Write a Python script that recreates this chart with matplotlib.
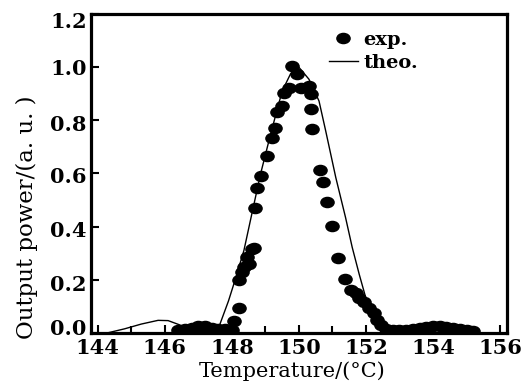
import matplotlib
matplotlib.use("Agg")
import matplotlib.pyplot as plt
from matplotlib.path import Path
from matplotlib.transforms import Affine2D, ScaledTranslation
from matplotlib.ticker import MultipleLocator, FixedLocator

# ---- data ----
theo_x = [144.3, 144.8, 145.3, 145.8, 146.1, 146.4, 146.8, 147.2, 147.55,
          147.9, 148.1, 148.36, 148.6, 148.86, 149.16, 149.5, 149.75, 150.0,
          150.3, 150.6, 150.8, 151.1, 151.39, 151.59, 151.8, 151.99, 152.2,
          152.4, 152.6, 152.9, 153.3, 153.7, 154.1, 154.5, 154.9, 155.3]
theo_y = [0.0, 0.015, 0.033, 0.047, 0.046, 0.032, 0.012, 0.003, 0.0,
          0.12, 0.2, 0.31, 0.45, 0.60, 0.75, 0.91, 0.975, 1.0,
          0.955, 0.873, 0.76, 0.585, 0.435, 0.322, 0.22, 0.134, 0.06,
          0.02, 0.005, 0.0, 0.005, 0.02, 0.027, 0.02, 0.008, 0.0]

exp_x = [146.4, 146.6, 146.8, 147.0, 147.2, 147.4, 147.6, 147.8, 148.0,
         148.06, 148.2, 148.2, 148.3, 148.36, 148.46, 148.5, 148.59, 148.66,
         148.69, 148.75, 148.87, 149.04, 149.21, 149.3, 149.35, 149.5, 149.55,
         149.7, 149.8, 149.95, 150.05, 150.3, 150.35, 150.35, 150.4,
         150.63, 150.72, 150.84, 150.99, 151.16, 151.37, 151.55, 151.69,
         151.79, 151.95, 152.1, 152.24, 152.33, 152.45, 152.6,
         152.8, 153.0, 153.2, 153.4, 153.6, 153.8, 154.0, 154.2, 154.4,
         154.6, 154.8, 155.0, 155.2]
exp_y = [0.01, 0.015, 0.02, 0.025, 0.025, 0.02, 0.015, 0.015, 0.012,
         0.046, 0.095, 0.2, 0.23, 0.247, 0.284, 0.26, 0.316, 0.32,
         0.471, 0.546, 0.591, 0.667, 0.734, 0.773, 0.83, 0.855, 0.905,
         0.923, 1.005, 0.974, 0.923, 0.93, 0.9, 0.842, 0.767,
         0.614, 0.569, 0.494, 0.403, 0.283, 0.204, 0.163, 0.15,
         0.133, 0.115, 0.095, 0.075, 0.05, 0.03, 0.015,
         0.01, 0.01, 0.012, 0.015, 0.018, 0.022, 0.025, 0.025, 0.022,
         0.018, 0.014, 0.01, 0.005]

x_ticks = [144, 146, 148, 150, 152, 154, 156]
y_ticks = [0.0, 0.2, 0.4, 0.6, 0.8, 1.0, 1.2]

# ---- figure ----
fig = plt.figure(figsize=(5.23, 3.83), dpi=100)
ax = fig.add_axes([0.174, 0.131, 0.795, 0.832])

ell = Path.unit_circle().transformed(Affine2D().scale(1.3, 1.0))

ax.plot(theo_x, theo_y, color="black", lw=1.0, label="theo.")
ax.plot(exp_x, exp_y, linestyle="none", marker=ell, markersize=9.5,
        color="black", label="exp.")

ax.set_xlim(143.8, 156.2)
ax.set_ylim(0, 1.2)
ax.xaxis.set_major_locator(FixedLocator(x_ticks))
ax.xaxis.set_minor_locator(MultipleLocator(1))
ax.yaxis.set_major_locator(FixedLocator(y_ticks))
ax.set_xticklabels([str(v) for v in x_ticks], family="DejaVu Serif",
                   fontsize=15, fontweight="bold")
ax.set_yticklabels([f"{v:.1f}" for v in y_ticks], family="DejaVu Serif",
                   fontsize=15, fontweight="bold")
ax.tick_params(axis="both", which="both", direction="in", width=1.5)
ax.tick_params(axis="both", which="major", length=6)
ax.tick_params(axis="x", which="minor", length=5)
ax.tick_params(axis="x", pad=4)
ax.tick_params(axis="y", pad=3)
for s in ax.spines.values():
    s.set_linewidth(2.3)

# small vertical nudges of y tick labels (pixels, positive = down)
nudges = [-6, 3, 2, 2, 3, 0, 6]
for lab, dy in zip(ax.get_yticklabels(), nudges):
    lab.set_transform(lab.get_transform() +
                      ScaledTranslation(0, -dy / 100, fig.dpi_scale_trans))

ax.set_xlabel("Temperature/(°C)", family="DejaVu Serif", fontsize=15)
ax.xaxis.set_label_coords(0.484, -0.089)
ax.set_ylabel("Output power/(a. u. )", family="DejaVu Serif", fontsize=16.5)
ax.yaxis.set_label_coords(-0.128, 0.362)

h, l = ax.get_legend_handles_labels()
ax.legend(h[::-1], l[::-1], loc="upper left", bbox_to_anchor=(0.548, 0.978),
          frameon=False, borderpad=0, handlelength=1.5, handletextpad=0.3,
          labelspacing=0.25, prop={"family": "DejaVu Serif", "size": 14,
                                  "weight": "bold"})

fig.savefig("out.png", dpi=100)
